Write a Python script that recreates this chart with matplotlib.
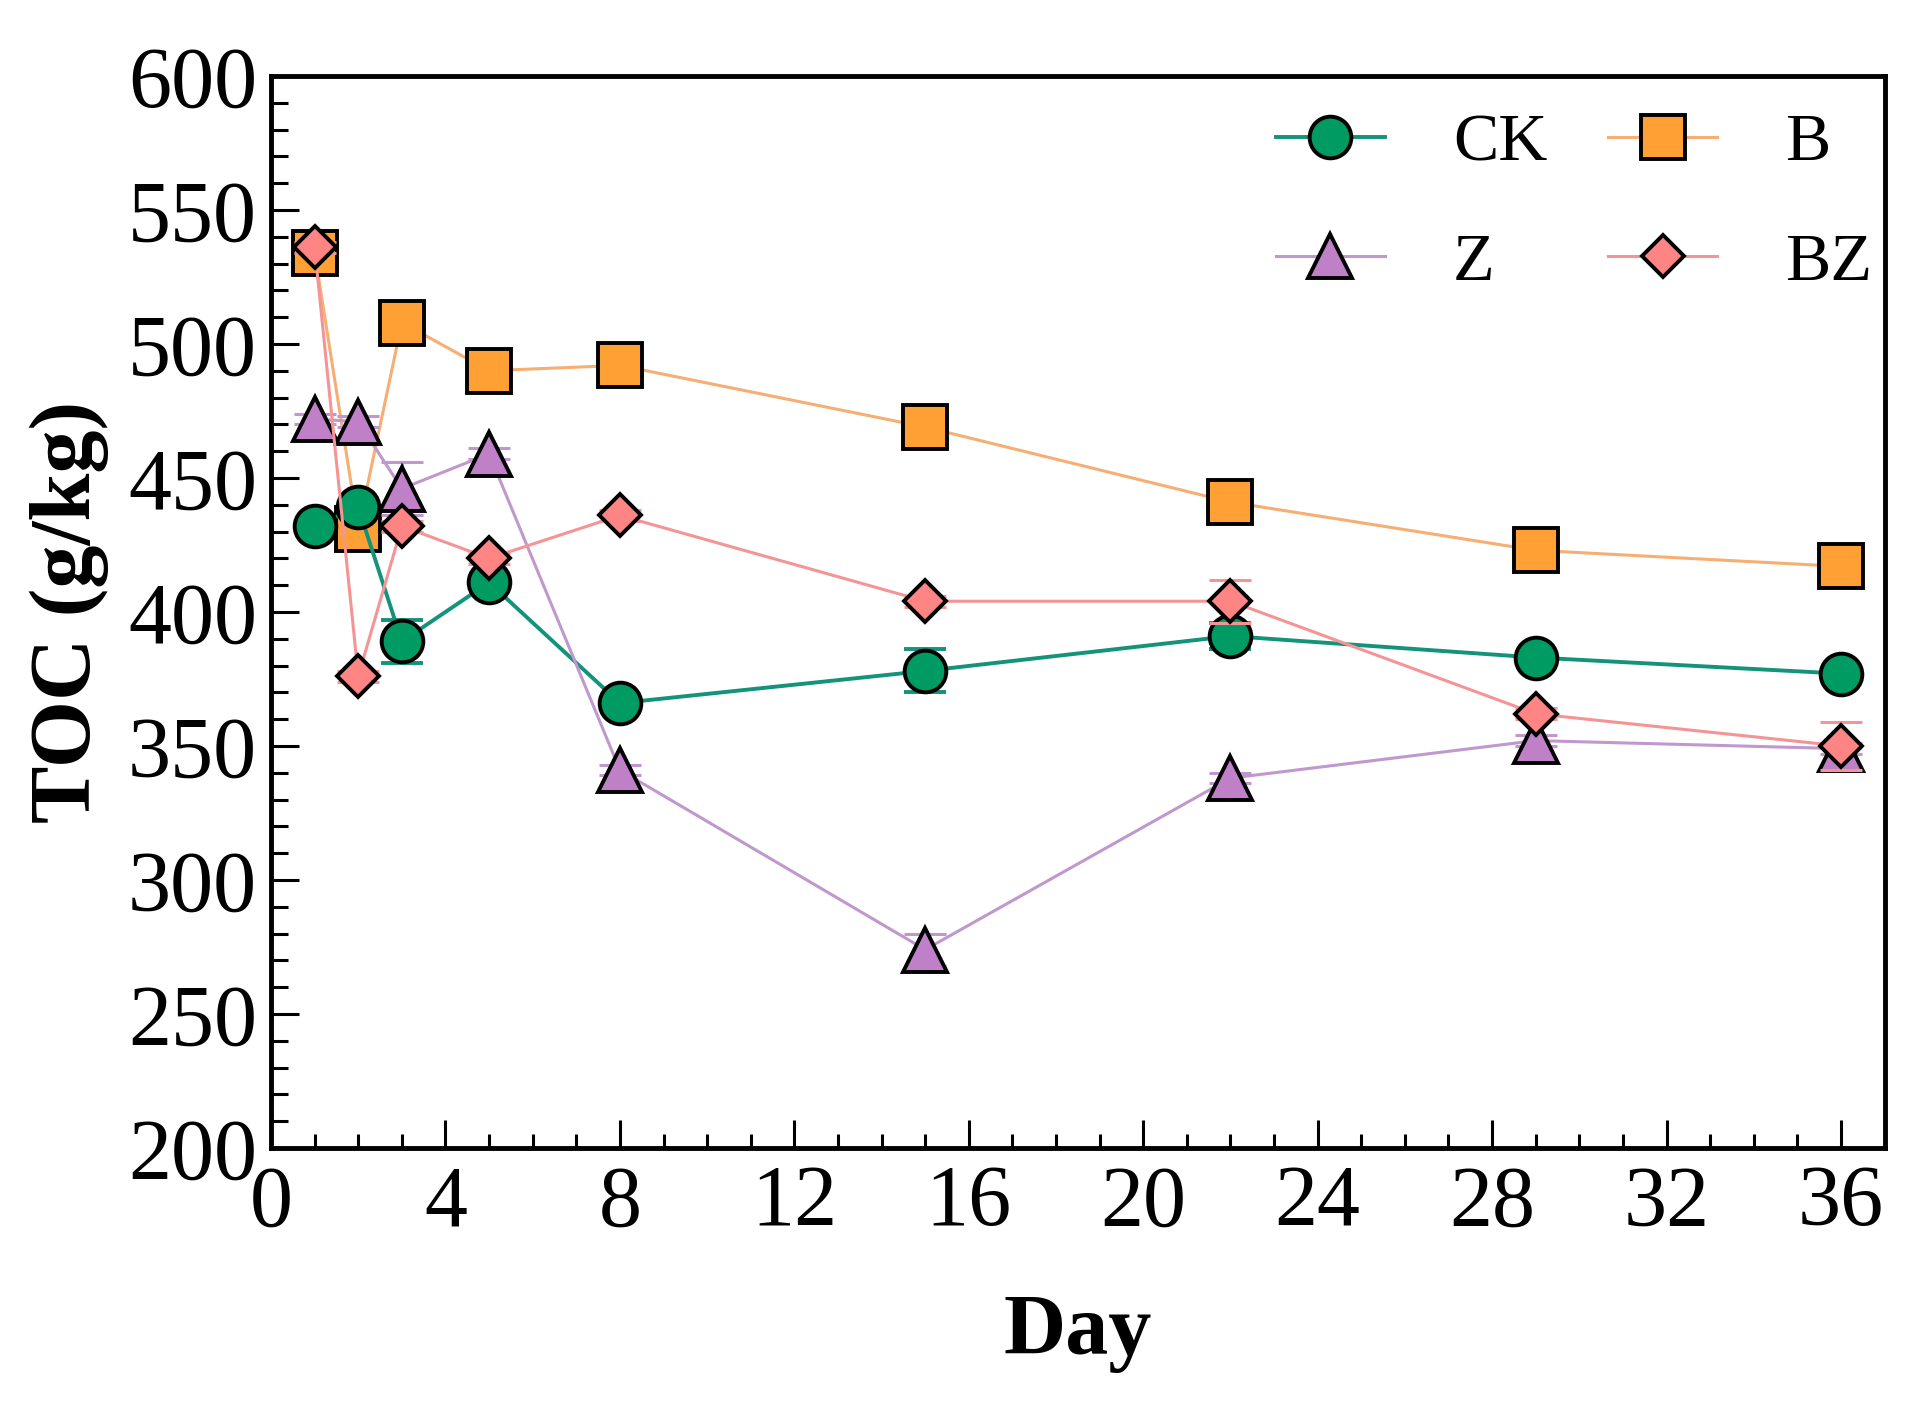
import matplotlib
matplotlib.use("Agg")
import matplotlib.pyplot as plt
from matplotlib.ticker import MultipleLocator

plt.rcParams['font.family'] = ['Liberation Serif', 'DejaVu Serif']

# sampling days and TOC values (g/kg)
days = [1, 2, 3, 5, 8, 15, 22, 29, 36]
toc_ck = [432, 439, 389, 411, 366, 378, 391, 383, 377]
toc_b = [534, 431, 508, 490, 492, 469, 441, 423, 417]
toc_z = [472, 471, 446, 459, 341, 274, 338, 352, 349]
toc_bz = [536, 376, 432, 420, 436, 404, 404, 362, 350]

# standard errors (estimated, most are hidden behind the markers)
err_ck = [2, 2, 8, 2, 2, 8, 5, 2, 2]
err_b = [2, 2, 2, 2, 2, 2, 2, 2, 2]
err_z = [2, 2, 10, 2, 2, 6, 2, 2, 2]
err_bz = [2, 2, 2, 2, 2, 2, 8, 2, 9]

x_ticks = [0, 4, 8, 12, 16, 20, 24, 28, 32, 36]
y_ticks = [200, 250, 300, 350, 400, 450, 500, 550, 600]

# label: (values, errors, marker, size, face colour, line colour, line width, zorder)
series = {
    "B": (toc_b, err_b, 's', 31, '#FFA035', '#F6AE72', 2.2, 3),
    "CK": (toc_ck, err_ck, 'o', 30, '#009A63', '#12937A', 2.8, 4),
    "Z": (toc_z, err_z, '^', 31, '#C080C8', '#C098CE', 2.2, 5),
    "BZ": (toc_bz, err_bz, 'D', 21, '#FF8585', '#F49494', 2.2, 6),
}

fig = plt.figure(figsize=(19.25, 14.01), dpi=100)
ax = fig.add_axes([0.1408, 0.1806, 0.979 - 0.1408, 0.9458 - 0.1806])

handles = {}
for name in series:
    vals, errs, mk, ms, fc, lc, lw, z = series[name]
    ax.errorbar(days, vals, yerr=errs, fmt='none', ecolor=lc, elinewidth=lw,
                capsize=15, capthick=lw, zorder=z)
    h, = ax.plot(days, vals, color=lc, linewidth=lw, marker=mk, markersize=ms,
                 markerfacecolor=fc, markeredgecolor='black', markeredgewidth=2.8,
                 zorder=z + 0.5)
    handles[name] = h

ax.set_xlim(0, 37)
ax.set_ylim(200, 600)
ax.set_xticks(x_ticks)
ax.set_yticks(y_ticks)
ax.xaxis.set_minor_locator(MultipleLocator(1))
ax.yaxis.set_minor_locator(MultipleLocator(10))

ax.tick_params(which='both', direction='in', top=False, right=False, width=2.2)
ax.tick_params(which='major', length=20, labelsize=62)
ax.tick_params(axis='x', which='minor', length=10)
ax.tick_params(axis='y', which='minor', length=12)
ax.tick_params(axis='x', which='major', pad=12)
ax.tick_params(axis='y', which='major', pad=10)
for sp in ax.spines.values():
    sp.set_linewidth(3.5)

ax.set_xlabel('Day', fontsize=62, fontweight='bold', labelpad=36)
ax.set_ylabel('TOC (g/kg)', fontsize=62, fontweight='bold', labelpad=14)

# ncol=2 fills column-wise, so order handles to get CK B / Z BZ rows
order = ["CK", "Z", "B", "BZ"]
ax.legend([handles[k] for k in order], order, ncol=2, frameon=False,
          fontsize=49, loc='upper right', bbox_to_anchor=(1.022, 1.010),
          handlelength=1.6, handletextpad=1.0, columnspacing=0.9,
          labelspacing=0.85, borderaxespad=0.3)

fig.savefig("out.png", dpi=100)
